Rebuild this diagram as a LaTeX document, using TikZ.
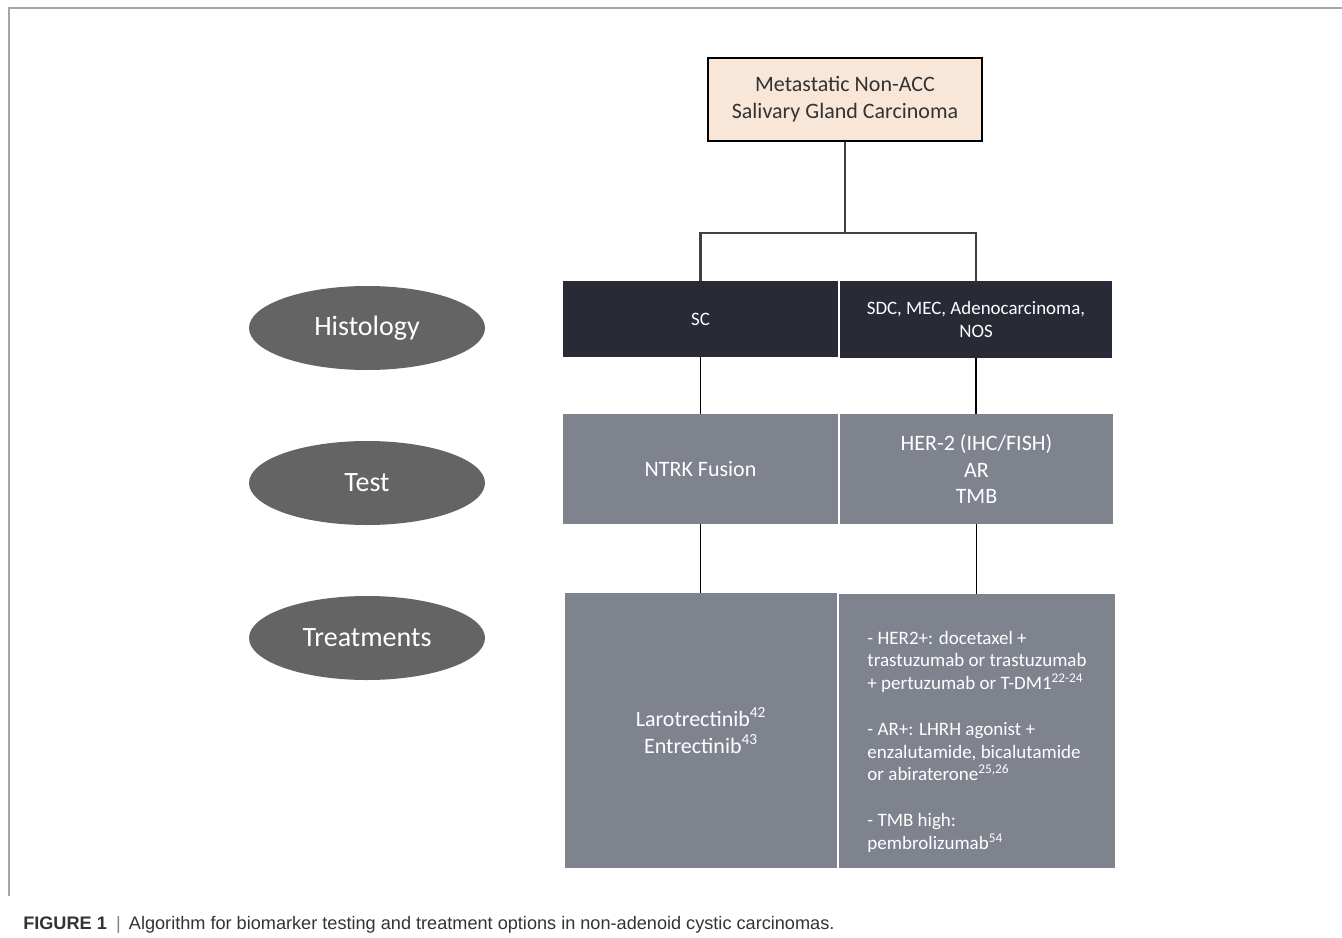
\documentclass[tikz,border=0pt]{standalone}
\usepackage{fontspec}
\setmainfont{Carlito}
\newfontfamily\capfont{Liberation Sans}
\usetikzlibrary{shapes.geometric}
\definecolor{peach}{HTML}{F8E6D8}
\definecolor{darkbox}{HTML}{282A35}
\definecolor{graybox}{HTML}{7F838E}
\definecolor{ellgray}{HTML}{646464}
\definecolor{framegray}{HTML}{A6A6A6}
\definecolor{connT}{HTML}{404040}
\definecolor{captext}{HTML}{333333}
\begin{document}
\begin{tikzpicture}[x=0.75pt,y=-0.75pt,
  topbox/.style={rectangle, draw=black, line width=1.5pt, fill=peach, inner sep=0pt,
    minimum width=205.5pt, minimum height=62.25pt, align=center,
    font=\fontsize{16.5}{20.25}\selectfont, text=black!80},
  histbox/.style={rectangle, fill=darkbox, inner sep=0pt, align=center, text=white,
    font=\fontsize{14.2}{17.25}\selectfont},
  testbox/.style={rectangle, fill=graybox, inner sep=0pt, align=center, text=white,
    font=\fontsize{16.5}{19.9}\selectfont},
  treatbox/.style={rectangle, fill=graybox, inner sep=0pt, align=center, text=white,
    font=\fontsize{16.5}{20.25}\selectfont},
  rowlabel/.style={ellipse, fill=ellgray, inner sep=0pt, minimum width=177pt,
    minimum height=63pt, text=white, font=\fontsize{21}{25}\selectfont},
  tconn/.style={draw=connT, line width=1.6pt},
  thinconn/.style={draw=black, line width=0.9pt}
]
\useasboundingbox (0,0) rectangle (1342,938);
% frame
\draw[framegray, line width=1.5pt] (9,896) -- (9,8) -- (1342,8);

% top box
\node[topbox] (top) at (845,99.5) {Metastatic Non-ACC\\Salivary Gland Carcinoma};

% histology row
\node[histbox, minimum width=206.25pt, minimum height=57pt] (sc) at (700.5,319) {SC};
\node[histbox, minimum width=204pt, minimum height=57.75pt] (sdc) at (976,319.5) {SDC, MEC, Adenocarcinoma,\\NOS};

% test row
\node[testbox, minimum width=206.25pt, minimum height=82.5pt] (testL) at (700.5,469) {NTRK Fusion};
\node[testbox, minimum width=204.75pt, minimum height=82.5pt] (testR) at (976.5,469) {HER-2 (IHC/FISH)\\AR\\TMB};

% treatment row
\node[treatbox, minimum width=204pt, minimum height=206.25pt] (treatL) at (701,730.5) {Larotrectinib\textsuperscript{42}\\Entrectinib\textsuperscript{43}};
\node[treatbox, minimum width=207pt, minimum height=205.5pt] (treatR) at (977,731)
  {\raisebox{-8.4pt}[\height][\depth]{\fontsize{14.25}{17.1}\selectfont
   \begin{tabular}{@{}l@{}}
   - HER2+: docetaxel +\\
   trastuzumab or trastuzumab\\
   + pertuzumab or T-DM1\textsuperscript{22-24}\\
   \\
   - AR+: LHRH agonist +\\
   enzalutamide, bicalutamide\\
   or abiraterone\textsuperscript{25,26}\\
   \\
   - TMB high:\\
   pembrolizumab\textsuperscript{54}
   \end{tabular}}};

% row labels
\node[rowlabel] (lhist) at (367,328) {Histology};
\node[rowlabel] (ltest) at (367,483) {Test};
\node[rowlabel] (ltreat) at (367,638) {Treatments};

% connectors
\coordinate (split) at (845,233);
\draw[tconn] (top.south) -- (split);
\draw[tconn] (sc.north) |- (split) -| (sdc.north);
\draw[thinconn] (sc.south) -- (sc.south |- testL.north);
\draw[thinconn] (sdc.south) -- (sdc.south |- testR.north);
\draw[thinconn] (testL.south) -- (testL.south |- treatL.north);
\draw[thinconn] (testR.south) -- (testR.south |- treatR.north);

% caption
\node[anchor=base west, inner sep=0pt, text=captext, font=\capfont\fontsize{13.6}{16}\selectfont] (caption) at (23,929)
  {\textbf{FIGURE 1}\hspace{7pt}{\color{gray}|}\hspace{6pt}Algorithm for biomarker testing and treatment options in non-adenoid cystic carcinomas.};
\end{tikzpicture}
\end{document}
